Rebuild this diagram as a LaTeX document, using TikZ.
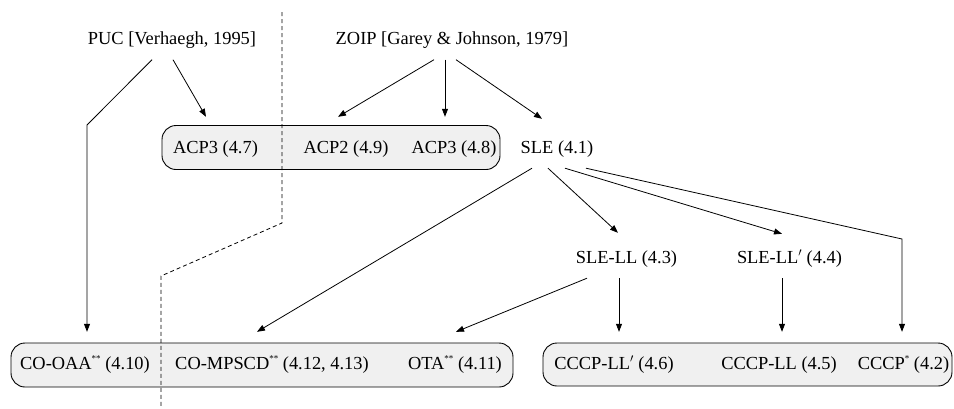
\documentclass[tikz,border=0pt]{standalone}
\usepackage{fontspec}
\setmainfont{Liberation Serif}
\usetikzlibrary{arrows.meta,calc}
\newcommand{\sst}[1]{\raisebox{7.5pt}{\fontsize{9}{9}\selectfont #1}}
\begin{document}
\begin{tikzpicture}[x=1pt,y=-1pt,
  lbl/.style={font=\fontsize{18.4}{22}\selectfont, inner sep=0pt, text height=12pt, text depth=0pt, minimum height=42pt},
  grp/.style={draw=black, line width=0.9pt, fill=black!6, rounded corners=14pt, inner sep=0pt},
  arr/.style={line width=0.8pt, -{Triangle[length=8pt,width=6pt]}},
  sep/.style={line width=0.8pt, dash pattern=on 4pt off 3pt}]
\useasboundingbox (0,0) rectangle (954,408);
% group boxes
\node[grp, minimum width=338pt, minimum height=44pt] (topbox) at (331,147.5) {};
\node[grp, minimum width=502pt, minimum height=44pt] (leftbox) at (262,365) {};
\node[grp, minimum width=409pt, minimum height=43pt] (rightbox) at (747.5,364.5) {};
% separator
\coordinate (d1) at (282,12);
\coordinate (d2) at (282,223);
\coordinate (d3) at (161,276);
\coordinate (d4) at (161,406);
\draw[sep] (d1) -- (d2) -- (d3) -- (d4);
% labels
\node[lbl] (puc) at (172,38.5) {PUC [Verhaegh, 1995]};
\node[lbl] (zoip) at (452,38.5) {ZOIP [Garey \& Johnson, 1979]};
\node[lbl] (acp37) at (215.5,147.5) {ACP3 (4.7)};
\node[lbl] (acp29) at (346,147.5) {ACP2 (4.9)};
\node[lbl] (acp38) at (454,147.5) {ACP3 (4.8)};
\node[lbl] (sle) at (557,147) {SLE (4.1)};
\node[lbl] (slell) at (626.5,257) {SLE-LL (4.3)};
\node[lbl] (slellp) at (789.5,257) {SLE-LL\ensuremath{'} (4.4)};
\node[lbl] (cooaa) at (85,363) {CO-OAA\sst{**} (4.10)};
\node[lbl] (compscd) at (272,363) {CO-MPSCD\sst{**} (4.12, 4.13)};
\node[lbl] (ota) at (455,363) {OTA\sst{**} (4.11)};
\node[lbl] (cccpllp) at (614,363) {CCCP-LL\ensuremath{'} (4.6)};
\node[lbl] (cccpll) at (779,363) {CCCP-LL (4.5)};
\node[lbl] (cccp) at (903.5,363) {CCCP\sst{*} (4.2)};
% connectors
\coordinate (pucbend) at (87,125);
\coordinate (slebend) at (902,239);
\draw[arr] ($(puc.south)+(-20,0)$) -- (pucbend) -- ($(cooaa.north)+(2,-10)$);
\draw[arr] ($(puc.south)+(1,0)$) -- ($(acp37.north)+(-9.5,-9.5)$);
\draw[arr] ($(zoip.south)+(-18,0)$) -- ($(acp29.north)+(-8,-9.5)$);
\draw[arr] ($(zoip.south)+(-7,0)$) -- ($(acp38.north)+(-9,-9.5)$);
\draw[arr] ($(zoip.south)+(4,0)$) -- ($(sle.north)+(-15,-7)$);
\draw[arr] ($(sle.south)+(-25,0)$) -- ($(compscd.north)+(-15,-10)$);
\draw[arr] ($(sle.south)+(-9,0)$) -- ($(slell.north)+(-8.5,-3)$);
\draw[arr] ($(sle.south)+(8,0)$) -- ($(slellp.north)+(-7.5,-2)$);
\draw[arr] ($(sle.south)+(29,0)$) -- (slebend) -- ($(cccp.north)+(-1.5,-10)$);
\draw[arr] ($(slell.south)+(-39.5,0)$) -- ($(ota.north)+(1,-10)$);
\draw[arr] ($(slell.south)+(-7.5,0)$) -- ($(cccpllp.north)+(5,-10)$);
\draw[arr] ($(slellp.south)+(-7.5,0)$) -- ($(cccpll.north)+(3,-10)$);
\end{tikzpicture}
\end{document}
